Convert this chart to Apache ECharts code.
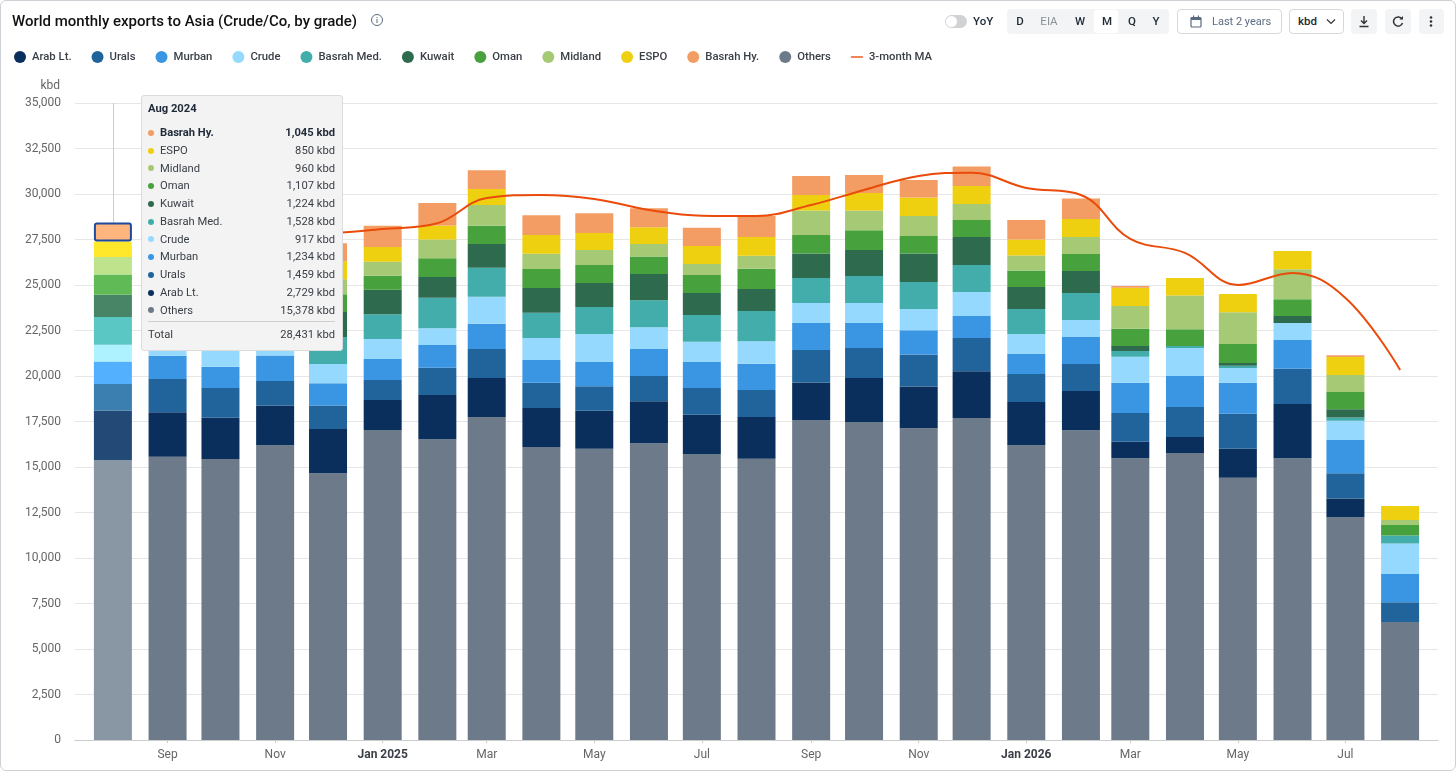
<!DOCTYPE html>
<html>
<head>
<meta charset="utf-8">
<script src="https://cdn.jsdelivr.net/npm/echarts@6/dist/echarts.min.js"></script>
<style>
html,body{margin:0;padding:0;background:#fff;font-family:Roboto,sans-serif}
#wrap{position:relative;width:1456px;height:771px;overflow:hidden}
#chart{position:absolute;left:0;top:0;width:1456px;height:771px}
#frame{position:absolute;left:0;top:0;width:1456px;height:771px;box-sizing:border-box;border:1px solid #cdd0d4;border-radius:6px;pointer-events:none}
.ui{position:absolute;box-sizing:border-box;font-size:11.5px;line-height:25px;height:25px;top:9px;color:#1f2937}
.ctr{text-align:center;font-weight:500}
.grey{background:#f3f4f5;border-radius:4px}
.box{border:1px solid #d5d8dc;border-radius:4px;background:#fff;line-height:23px}
svg{display:block}
</style>
</head>
<body>
<div id="wrap">
<div id="chart"></div>
<div id="frame"></div>
<svg class="ui" style="left:370px;top:13px;width:14px;height:14px" viewBox="0 0 14 14"><circle cx="7" cy="7" r="5.5" fill="none" stroke="#5a6b80" stroke-width="1"/><rect x="6.5" y="6" width="1" height="4" fill="#5a6b80"/><rect x="6.5" y="4" width="1" height="1" fill="#5a6b80"/></svg>
<div class="ui" style="left:945px;top:15px;width:22px;height:13px;border-radius:7px;background:#d0d2d6"><div style="position:absolute;left:1px;top:1px;width:11px;height:11px;border-radius:50%;background:#fff"></div></div>
<div class="ui" style="left:973px;top:9px;font-weight:500">YoY</div>
<div class="ui grey" style="left:1007px;width:162px"></div>
<div class="ui" style="left:1094px;top:10px;width:24px;height:23px;background:#fff;border-radius:3px"></div>
<div class="ui ctr" style="left:1010px;width:20px">D</div>
<div class="ui ctr" style="left:1036px;width:26px;color:#8a9099;font-weight:400">EIA</div>
<div class="ui ctr" style="left:1070px;width:20px">W</div>
<div class="ui ctr" style="left:1097px;width:20px">M</div>
<div class="ui ctr" style="left:1122px;width:20px">Q</div>
<div class="ui ctr" style="left:1146px;width:20px">Y</div>
<div class="ui box" style="left:1177px;width:105px"></div>
<svg class="ui" style="left:1190px;top:15px;width:12px;height:13px" viewBox="0 0 12 13"><rect x="1" y="2.5" width="10" height="9.5" rx="1" fill="none" stroke="#5a6b80" stroke-width="1.2"/><rect x="1" y="2.5" width="10" height="2.5" fill="#5a6b80"/><rect x="3" y="0.5" width="1.2" height="2.5" fill="#5a6b80"/><rect x="7.8" y="0.5" width="1.2" height="2.5" fill="#5a6b80"/></svg>
<div class="ui" style="left:1212px;color:#5a6b80;font-size:11px">Last 2 years</div>
<div class="ui box" style="left:1289px;width:55px"></div>
<div class="ui" style="left:1298px;font-weight:500">kbd</div>
<svg class="ui" style="left:1326px;top:18px;width:10px;height:7px" viewBox="0 0 10 7"><path d="M1 1.5 L5 5.5 L9 1.5" fill="none" stroke="#333" stroke-width="1.2"/></svg>
<div class="ui grey" style="left:1351px;width:26px"></div>
<svg class="ui" style="left:1358px;top:15px;width:12px;height:13px" viewBox="0 0 12 13"><path d="M6 1 V8 M3 5.5 L6 8.5 L9 5.5 M1.5 11.5 H10.5" fill="none" stroke="#333" stroke-width="1.4"/></svg>
<div class="ui grey" style="left:1385px;width:26px"></div>
<svg class="ui" style="left:1392px;top:15px;width:12px;height:13px" viewBox="0 0 12 13"><path d="M10 4 A4.6 4.6 0 1 0 10.5 8" fill="none" stroke="#333" stroke-width="1.5"/><path d="M7.5 4.6 H11 V1" fill="#333"/></svg>
<div class="ui grey" style="left:1419px;width:25px"></div>
<svg class="ui" style="left:1429px;top:15px;width:4px;height:13px" viewBox="0 0 4 13"><circle cx="2" cy="2.5" r="1.3" fill="#333"/><circle cx="2" cy="6.5" r="1.3" fill="#333"/><circle cx="2" cy="10.5" r="1.3" fill="#333"/></svg>
</div>
<script>
const titleText = 'World monthly exports to Asia (Crude/Co, by grade)';
const unitName = 'kbd';
const months = ['2024-08','2024-09','2024-10','2024-11','2024-12','2025-01','2025-02','2025-03','2025-04','2025-05','2025-06','2025-07','2025-08','2025-09','2025-10','2025-11','2025-12','2026-01','2026-02','2026-03','2026-04','2026-05','2026-06','2026-07','2026-08'];
const tickMonths = ['2024-09','2024-11','2025-01','2025-03','2025-05','2025-07','2025-09','2025-11','2026-01','2026-03','2026-05','2026-07'];
const monthNames = ['Jan','Feb','Mar','Apr','May','Jun','Jul','Aug','Sep','Oct','Nov','Dec'];

const others  = [15378,15567,15441,16194,14655,17035,16522,17749,16100,16007,16303,15716,15458,17584,17475,17128,17694,16193,17018,15478,15772,14415,15478,12237,6485];
const arabLt  = [2729,2436,2271,2180,2436,1648,2436,2143,2143,2088,2308,2161,2290,2052,2418,2290,2565,2381,2161,916,879,1593,2985,1026,0];
const urals   = [1459,1832,1630,1355,1282,1099,1502,1593,1392,1337,1392,1465,1484,1795,1649,1759,1832,1539,1484,1575,1649,1923,1941,1392,1081];
const murban  = [1234,1282,1172,1392,1227,1154,1245,1392,1245,1337,1484,1429,1447,1484,1374,1337,1209,1099,1484,1666,1703,1703,1575,1831,1557];
const crude   = [917,1000,1050,950,1062,1099,916,1484,1209,1538,1190,1117,1227,1099,1099,1172,1319,1099,934,1428,1538,806,934,1062,1667];
const basrahMed = [1528,1450,1400,1500,1484,1355,1685,1593,1392,1484,1484,1465,1667,1374,1484,1484,1484,1374,1484,311,110,128,0,165,440];
const kuwait  = [1224,1250,1300,1200,1374,1355,1136,1300,1355,1319,1447,1209,1209,1337,1429,1557,1539,1209,1209,275,0,147,385,458,0];
const oman    = [1107,950,1000,1000,973,769,1026,1008,1044,989,952,989,1117,1026,1081,971,934,898,934,952,916,1044,916,952,586];
const midland = [960,800,850,850,824,769,1026,1136,843,824,696,604,714,1337,1081,1099,879,824,934,1245,1850,1740,1648,934,275];
const espo    = [850,900,950,950,989,806,769,879,1026,934,916,989,1026,861,971,1008,989,879,989,1007,971,1007,1007,989,769];
const basrahHy = [1045,1000,1050,1000,989,1172,1245,1026,1081,1081,1044,1007,1154,1044,989,971,1062,1081,1117,92,0,0,0,92,0];
const movingAvg = [null,null,27800,27850,27860,28080,28393,29783,29948,29728,29124,28810,28794,29398,30223,30992,31173,30332,29948,27531,26761,25002,25662,24288,20332];

const legendOrder = ['Arab Lt.','Urals','Murban','Crude','Basrah Med.','Kuwait','Oman','Midland','ESPO','Basrah Hy.','Others'];
const stackSeries = [
  {name:'Others', data:others, color:'#6c7a89', hover:'#8997a5'},
  {name:'Arab Lt.', data:arabLt, color:'#0a2f5c', hover:'#234a76'},
  {name:'Urals', data:urals, color:'#21649b', hover:'#3b7fb0'},
  {name:'Murban', data:murban, color:'#3a96e3', hover:'#52b0ff'},
  {name:'Crude', data:crude, color:'#96d9ff', hover:'#aef2ff'},
  {name:'Basrah Med.', data:basrahMed, color:'#42adaa', hover:'#5bc7c4'},
  {name:'Kuwait', data:kuwait, color:'#2e6b4e', hover:'#488566'},
  {name:'Oman', data:oman, color:'#47a13d', hover:'#60bb56'},
  {name:'Midland', data:midland, color:'#a5c974', hover:'#bfe38c'},
  {name:'ESPO', data:espo, color:'#eed011', hover:'#ffe82a'},
  {name:'Basrah Hy.', data:basrahHy, color:'#f39c63', hover:'#ffb57d'}
];

const DAY = 86400000;
const ts = m => Date.parse(m + '-01T00:00:00Z');
const fmt = n => n.toLocaleString('en-US');

const barSeries = stackSeries.map((s, si) => ({
  name: s.name, type: 'bar', stack: 'total', barWidth: 38, color: s.color,
  itemStyle: {color: s.color},
  emphasis: {disabled: true},
  encode: {x: 1, y: 0},
  data: s.data.map((v, i) => {
    const value = [v, ts(months[i])];
    if (i !== 0) return value;
    const top = si === stackSeries.length - 1;
    return {value, itemStyle: {color: s.hover, borderColor: top ? '#1d4a9c' : 'transparent', borderWidth: top ? 2 : 0, borderRadius: top ? 2 : 0}};
  })
}));

const chart = echarts.init(document.getElementById('chart'), null, {renderer: 'canvas'});
chart.setOption({
  animation: false,
  textStyle: {fontFamily: 'Roboto'},
  title: {text: titleText, left: 7, top: 10, textStyle: {fontFamily: 'Roboto', fontSize: 15, fontWeight: 500, color: '#111'}},
  legend: {
    left: 9, top: 46, itemWidth: 12, itemHeight: 12, itemGap: 20, icon: 'circle',
    textStyle: {fontFamily: 'Roboto', fontSize: 11.3, fontWeight: 500, color: '#3b4048', padding: [0, 0, 0, 1]},
    data: legendOrder.map(n => ({name: n, icon: 'circle'})).concat([{name: '3-month MA', icon: 'path://M0 5h14v1.6H0z'}])
  },
  grid: {left: 75, right: 18, top: 103, bottom: 31, containLabel: false},
  tooltip: {
    trigger: 'axis', alwaysShowContent: true, showContent: true, transitionDuration: 0,
    position: [141, 95], padding: 0, borderWidth: 1, borderColor: '#dcdcdc', backgroundColor: '#f3f3f3',
    extraCssText: 'border-radius:3px;box-shadow:none;width:202px;height:256px;box-sizing:border-box;',
    axisPointer: {type: 'line', z: 1, label: {show: false}, lineStyle: {color: '#cccccc', width: 1, type: 'solid'}},
    formatter: () => {
      const i = 0;
      const d = new Date(ts(months[i]));
      let rows = '';
      let total = 0;
      [...stackSeries].reverse().forEach((s, k) => {
        total += s.data[i];
        rows += `<div style="display:flex;height:17.75px;line-height:17.75px;align-items:center;${k === 0 ? 'font-weight:700;color:#1f2937' : ''}"><span style="width:6px;height:6px;border-radius:50%;background:${s.color};margin-right:6px"></span><span style="flex:1">${s.name}</span><span>${fmt(s.data[i])} ${unitName}</span></div>`;
      });
      return `<div style="font-family:Roboto;font-size:11.2px;color:#3b4048;padding:5px 7px 0 6px;line-height:16px"><div style="font-weight:700;color:#1f2937;height:16px">${monthNames[d.getUTCMonth()]} ${d.getUTCFullYear()}</div><div style="margin-top:7px">${rows}</div><div style="border-top:1px solid #cfcfcf;margin-top:2px;padding-top:4px;display:flex;height:18px;line-height:18px"><span style="flex:1">Total</span><span>${fmt(total)} ${unitName}</span></div></div>`;
    }
  },
  xAxis: {
    type: 'value',
    scale: true,
    min: ts(months[0]) - 21.5 * DAY,
    max: ts(months[months.length - 1]) + 21.5 * DAY,
    axisLine: {lineStyle: {color: '#cccccc'}},
    axisTick: {show: true, length: 3, lineStyle: {color: '#cccccc'}, customValues: tickMonths.map(ts)},
    splitLine: {show: false},
    minorTick: {show: false},
    axisLabel: {
      customValues: tickMonths.map(ts), margin: 9, fontSize: 12, color: '#666', fontFamily: 'Roboto',
      hideOverlap: false, showMinLabel: true, showMaxLabel: true,
      formatter: v => {
        const d = new Date(v);
        return d.getUTCMonth() === 0 ? `{b|Jan ${d.getUTCFullYear()}}` : monthNames[d.getUTCMonth()];
      },
      rich: {b: {fontWeight: 700, color: '#3b4048', fontSize: 12, fontFamily: 'Roboto'}}
    }
  },
  yAxis: {
    type: 'value', min: 0, max: 35000, interval: 2500,
    name: unitName, nameLocation: 'end', nameGap: 11,
    nameTextStyle: {color: '#666', fontSize: 12, fontFamily: 'Roboto', align: 'right', padding: [0, 15, 0, 0]},
    axisLine: {show: false}, axisTick: {show: false},
    axisLabel: {margin: 14, fontSize: 12, color: '#666', fontFamily: 'Roboto', formatter: v => fmt(v)},
    splitLine: {lineStyle: {color: '#e6e6e6', width: 1}}
  },
  series: barSeries.concat([{
    name: '3-month MA', type: 'line', smooth: 0.4, showSymbol: false, symbol: 'none', z: 5,
    color: '#ea4b0a', lineStyle: {color: '#ea4b0a', width: 2},
    emphasis: {disabled: true},
    data: movingAvg.map((v, i) => [ts(months[i]), v])
  }])
});
chart.dispatchAction({type: 'showTip', seriesIndex: 0, dataIndex: 0});
</script>
</body>
</html>
